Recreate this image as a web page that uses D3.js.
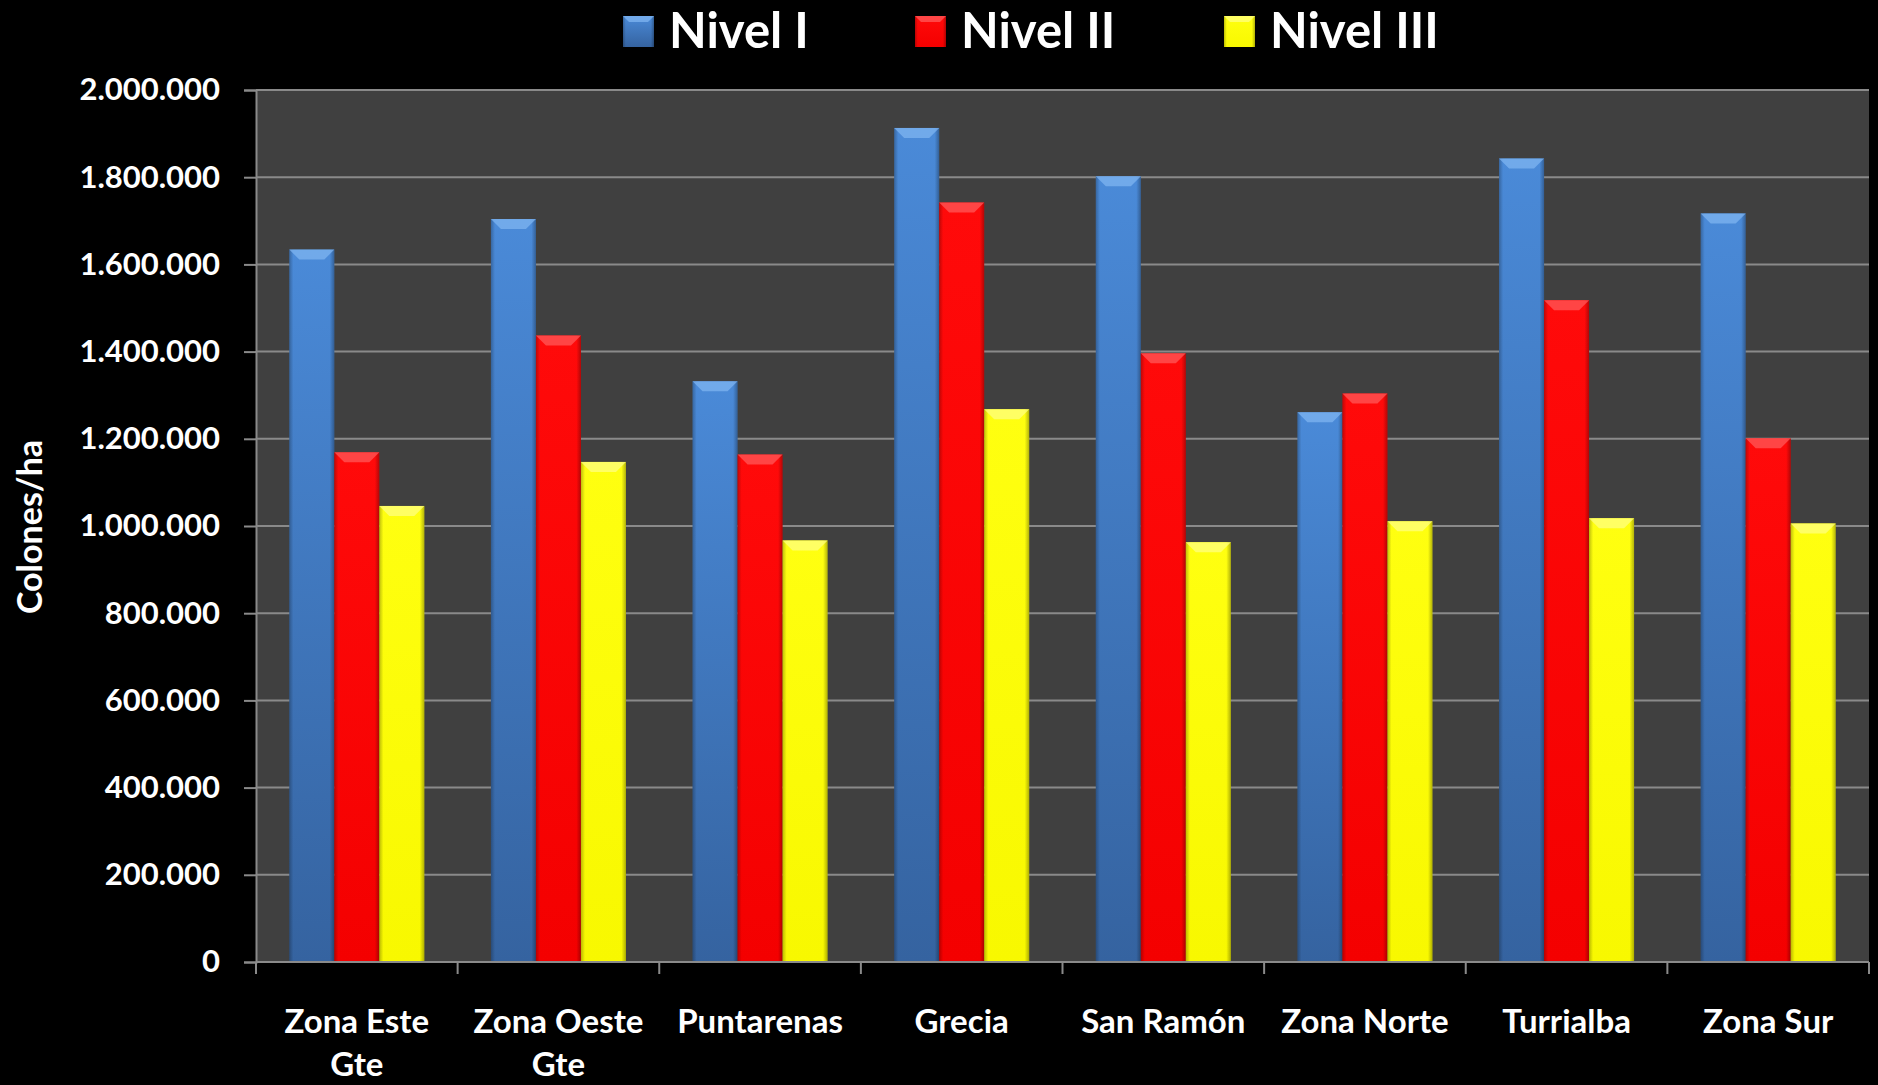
<!DOCTYPE html>
<html>
<head>
<meta charset="utf-8">
<script src="https://cdn.jsdelivr.net/npm/d3@7"></script>
<style>
  body { margin: 0; background: #000; }
  svg { display: block; font-family: Lato, "Open Sans", sans-serif; font-weight: 700; }
</style>
</head>
<body>
<div id="chart"></div>
<script>
const width = 1878;
const height = 1085;

// data
var categories = ["Zona Este\nGte", "Zona Oeste\nGte", "Puntarenas", "Grecia", "San Ramón", "Zona Norte", "Turrialba", "Zona Sur"];
var series = ["Nivel I", "Nivel II", "Nivel III"];
var nivel1 = [1634000, 1704000, 1332000, 1913000, 1802000, 1261000, 1843000, 1717000];
var nivel2 = [1169000, 1437000, 1164000, 1742000, 1396000, 1304000, 1518000, 1201000];
var nivel3 = [1046000, 1147000, 967000, 1268000, 963000, 1011000, 1018000, 1006000];
var yTicks = [0, 200000, 400000, 600000, 800000, 1000000, 1200000, 1400000, 1600000, 1800000, 2000000];

var values = [nivel1, nivel2, nivel3];
var plot = { left: 256, right: 1869, top: 90, bottom: 962 };

var fmt = d3.formatLocale({ decimal: ",", thousands: ".", grouping: [3], currency: ["", ""] }).format(",");

var xScale = d3.scaleBand().domain(categories).range([plot.left, plot.right]).padding(0);
var xInner = d3.scaleBand().domain(series).range([0, xScale.bandwidth()]).paddingInner(0).paddingOuter(0.74);
var yScale = d3.scaleLinear().domain([0, 2000000]).range([plot.bottom, plot.top]);

var svg = d3.select('#chart').append('svg')
    .attr('width', width)
    .attr('height', height);

svg.append('rect').attr('width', width).attr('height', height).attr('fill', '#000');

// gradients for the bevelled bars
var defs = svg.append('defs');
var fills = [
    { id: 'g0', top: '#4a8ad8', bottom: '#3563a0', bevel: '#7fb4f0' },
    { id: 'g1', top: '#ff0a0a', bottom: '#f40000', bevel: '#ff5a5a' },
    { id: 'g2', top: '#ffff10', bottom: '#f8f800', bevel: '#ffff80' }
];
fills.forEach(f => {
    var g = defs.append('linearGradient').attr('id', f.id).attr('x1', 0).attr('y1', 0).attr('x2', 0).attr('y2', 1);
    g.append('stop').attr('offset', '0%').attr('stop-color', f.top);
    g.append('stop').attr('offset', '100%').attr('stop-color', f.bottom);
});
var side = defs.append('linearGradient').attr('id', 'side').attr('x1', 0).attr('y1', 0).attr('x2', 1).attr('y2', 0);
side.append('stop').attr('offset', '0%').attr('stop-color', '#000').attr('stop-opacity', 0.25);
side.append('stop').attr('offset', '9%').attr('stop-color', '#000').attr('stop-opacity', 0);
side.append('stop').attr('offset', '90%').attr('stop-color', '#000').attr('stop-opacity', 0);
side.append('stop').attr('offset', '100%').attr('stop-color', '#000').attr('stop-opacity', 0.3);

// plot area
svg.append('rect')
    .attr('x', plot.left).attr('y', plot.top)
    .attr('width', plot.right - plot.left).attr('height', plot.bottom - plot.top)
    .attr('fill', '#404040');

// grid
svg.append('g').selectAll('line')
    .data(yTicks.filter(d => d > 0)).enter()
    .append('line')
    .attr('x1', plot.left).attr('x2', plot.right)
    .attr('y1', d => yScale(d)).attr('y2', d => yScale(d))
    .attr('stroke', '#8a8a8a').attr('stroke-width', 2);

// y axis
var yAxis = d3.axisLeft(yScale).tickValues(yTicks).tickFormat(fmt).tickSize(12).tickPadding(24);
var yg = svg.append('g').attr('transform', `translate(${plot.left},0)`).call(yAxis);
yg.select('.domain').attr('stroke', '#8a8a8a').attr('stroke-width', 2);
yg.selectAll('.tick line').attr('stroke', '#8a8a8a').attr('stroke-width', 2);
yg.selectAll('.tick text').attr('fill', '#fff').style('font-size', '31px').style('font-family', 'Lato, sans-serif').style('font-weight', 700);

// bars
var groups = svg.append('g').selectAll('g')
    .data(categories).enter()
    .append('g')
    .attr('transform', d => `translate(${xScale(d)},0)`);

groups.each(function (cat, ci) {
    var g = d3.select(this);
    series.forEach((s, si) => {
        var v = values[si][ci];
        var x = xInner(s), w = xInner.bandwidth();
        var y = yScale(v), h = yScale(0) - yScale(v);
        g.append('rect').attr('x', x).attr('y', y).attr('width', w).attr('height', h).attr('fill', `url(#${fills[si].id})`);
        g.append('rect').attr('x', x).attr('y', y).attr('width', w).attr('height', h).attr('fill', 'url(#side)');
        var b = 10;
        g.append('polygon')
            .attr('points', [[x, y], [x + w, y], [x + w - b, y + b], [x + b, y + b]].map(p => p.join(',')).join(' '))
            .attr('fill', fills[si].bevel).attr('opacity', 0.75);
    });
});

// x axis
var xg = svg.append('g').attr('transform', `translate(0,${plot.bottom})`);
xg.append('line').attr('x1', plot.left).attr('x2', plot.right).attr('stroke', '#8a8a8a').attr('stroke-width', 2);
xg.selectAll('.xt')
    .data(d3.range(categories.length + 1)).enter()
    .append('line')
    .attr('x1', i => plot.left + i * xScale.step()).attr('x2', i => plot.left + i * xScale.step())
    .attr('y1', 0).attr('y2', 12)
    .attr('stroke', '#8a8a8a').attr('stroke-width', 2);

var xl = svg.append('g').selectAll('text')
    .data(categories).enter()
    .append('text')
    .attr('text-anchor', 'middle')
    .attr('fill', '#fff')
    .style('font-size', '33px');
xl.each(function (d) {
    var t = d3.select(this);
    d.split('\n').forEach((line, i) => {
        t.append('tspan')
            .attr('x', xScale(d) + xScale.bandwidth() / 2)
            .attr('y', 1033 + i * 43)
            .text(line);
    });
});

// y title
svg.append('text')
    .attr('transform', 'translate(42,527) rotate(-90)')
    .attr('text-anchor', 'middle')
    .attr('fill', '#fff')
    .style('font-size', '34px')
    .text('Colones/ha');

// legend
var legendX = [623, 915, 1224];
var legend = svg.append('g').selectAll('g')
    .data(series).enter()
    .append('g')
    .attr('transform', (d, i) => `translate(${legendX[i]},16)`);
legend.append('rect').attr('width', 31).attr('height', 31).attr('fill', (d, i) => `url(#${fills[i].id})`);
legend.append('rect').attr('width', 31).attr('height', 31).attr('fill', 'url(#side)');
legend.append('polygon')
    .attr('points', '0,0 31,0 25,6 6,6')
    .attr('fill', (d, i) => fills[i].bevel).attr('opacity', 0.75);
legend.append('text')
    .attr('x', 46).attr('y', 32)
    .attr('fill', '#fff')
    .style('font-size', '49px')
    .text(d => d);
</script>
</body>
</html>
